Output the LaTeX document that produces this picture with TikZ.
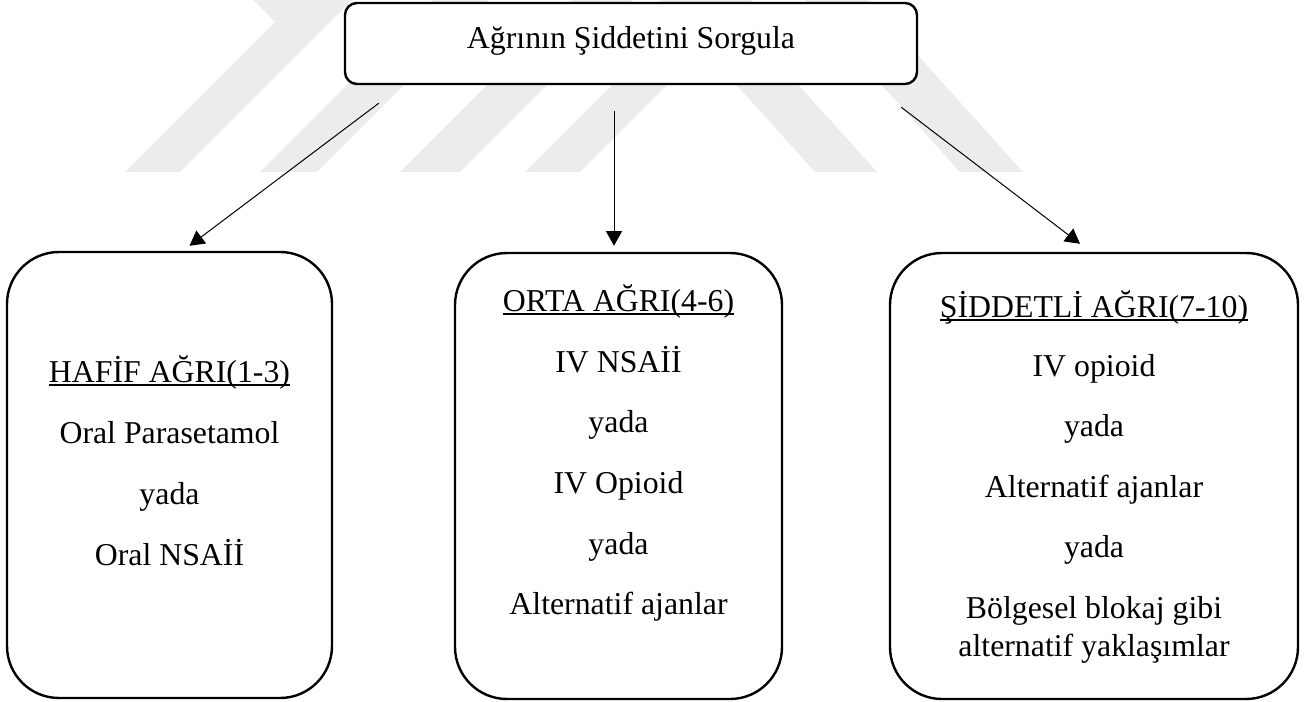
\documentclass[tikz,border=0pt]{standalone}
\usepackage{fontspec}
\setmainfont{Liberation Serif}
\usetikzlibrary{arrows.meta,calc}

\definecolor{filigran}{gray}{0.925}
\newcommand{\altciz}[1]{\setbox0\hbox{#1}\rlap{\rule[-3pt]{\wd0}{1.2pt}}\box0}

\tikzset{every picture/.style={line width=0.75pt}}
\tikzset{
  ustkutu/.style={draw, line width=1.8pt, fill=white, rounded corners=9pt, inner sep=0pt,
    minimum width=429pt, text height=34.5pt, text depth=26.25pt, anchor=base,
    font=\fontsize{23.85}{28}\selectfont},
  kutu/.style={draw, line width=1.8pt, fill=white, rounded corners=39pt, inner sep=0pt,
    minimum height=334.5pt},
  yazi/.style={anchor=base, inner sep=0pt, font=\fontsize{23.85}{28}\selectfont},
  ok/.style={-{Triangle[length=11pt,width=12pt]}, line width=0.75pt},
}

\begin{document}
\begin{tikzpicture}[x=0.75pt,y=0.75pt,yscale=-1,xscale=1]
\useasboundingbox (0,0) rectangle (1316,702);

%Shape: Polygon [filigran]
\fill[filigran] (253,0) -- (275,22) -- (125,172) -- (180,172) -- (352,0) -- cycle ;
\fill[filigran] (260,172) -- (317,172) -- (489,0) -- (432,0) -- cycle ;
\fill[filigran] (400,172) -- (460,172) -- (632,0) -- (572,0) -- cycle ;
\fill[filigran] (525,172) -- (580,172) -- (752,0) -- (697,0) -- cycle ;
\fill[filigran] (815,172) -- (877,172) -- (722,0) -- (660,0) -- cycle ;
\fill[filigran] (960,172) -- (1023,172) -- (868,0) -- (805,0) -- cycle ;

%Shape: Rounded Rect [sorgu]
\node[ustkutu] (sorgu) at (631,49) {Ağrının Şiddetini Sorgula};

%Shape: Rounded Rect [hafif]
\node[kutu, minimum width=243.75pt] (hafif) at (169.5,475) {};
%Shape: Rounded Rect [orta]
\node[kutu, minimum width=245.25pt] (orta) at (618.5,476) {};
%Shape: Rounded Rect [siddet]
\node[kutu, minimum width=306pt] (siddet) at (1094,476) {};

% Text Node
\node[yazi] (hafif0) at (169.5,382) {\altciz{HAFİF AĞRI(1-3)}};
\node[yazi] (hafif1) at (169.5,443) {Oral Parasetamol};
\node[yazi] (hafif2) at (169.5,504) {yada};
\node[yazi] (hafif3) at (169.5,565) {Oral NSAİİ};

% Text Node
\node[yazi] (orta0) at (618.5,311) {\altciz{ORTA AĞRI(4-6)}};
\node[yazi] (orta1) at (618.5,372) {IV NSAİİ};
\node[yazi] (orta2) at (618.5,432) {yada};
\node[yazi] (orta3) at (618.5,493) {IV Opioid};
\node[yazi] (orta4) at (618.5,554) {yada};
\node[yazi] (orta5) at (618.5,614) {Alternatif ajanlar};

% Text Node
\node[yazi] (siddet0) at (1094,317) {\altciz{ŞİDDETLİ AĞRI(7-10)}};
\node[yazi] (siddet1) at (1094,376) {IV opioid};
\node[yazi] (siddet2) at (1094,436) {yada};
\node[yazi] (siddet3) at (1094,497) {Alternatif ajanlar};
\node[yazi] (siddet4) at (1094,557) {yada};
\node[yazi] (siddet5) at (1094,618) {Bölgesel blokaj gibi};
\node[yazi] (siddet6) at (1094,656) {alternatif yaklaşımlar};

%Straight Lines [ok]
\draw[ok] ($(sorgu.south west)+(35,18)$) -- ($(hafif.north)+(20,-5)$) ;
\draw[ok] ($(sorgu.south)+(-17,26)$) -- ($(orta.north)+(-4.5,-6)$) ;
\draw[ok] ($(sorgu.south east)+(-17,22)$) -- ($(siddet.north)+(-14,-8)$) ;

\end{tikzpicture}
\end{document}
